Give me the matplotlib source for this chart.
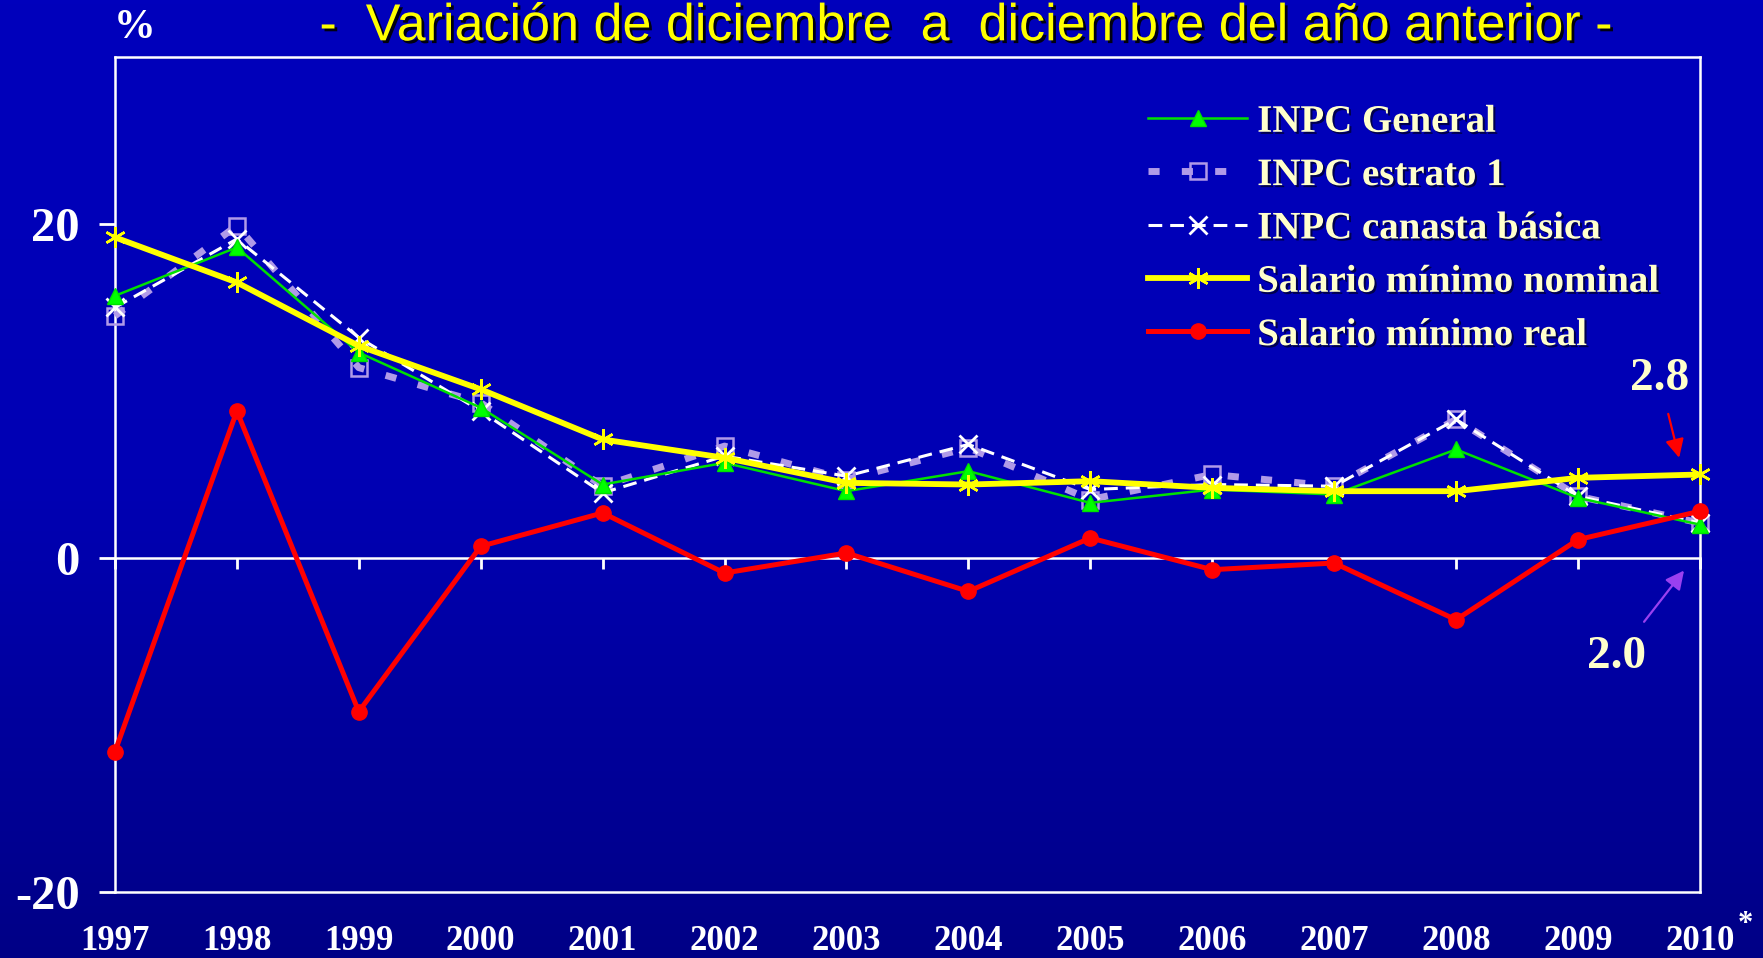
import numpy as np
import matplotlib
matplotlib.use("Agg")
import matplotlib.pyplot as plt
from matplotlib import patheffects as pe
from matplotlib.colors import LinearSegmentedColormap

# Annual December-to-December change (%)
years = [1997, 1998, 1999, 2000, 2001, 2002, 2003, 2004, 2005, 2006, 2007, 2008, 2009, 2010]
inpc_general = [15.7, 18.6, 12.3, 9.0, 4.4, 5.7, 4.0, 5.2, 3.3, 4.1, 3.8, 6.5, 3.6, 2.0]
inpc_estrato1 = [14.5, 19.9, 11.4, 9.3, 4.3, 6.7, 4.7, 6.6, 3.5, 5.0, 4.3, 8.3, 3.7, 2.1]
inpc_canasta = [15.0, 19.1, 13.2, 8.8, 3.9, 6.1, 4.9, 6.8, 4.1, 4.4, 4.3, 8.3, 3.7, 2.1]
sm_nominal = [19.2, 16.5, 12.7, 10.1, 7.1, 6.0, 4.5, 4.4, 4.6, 4.2, 4.0, 4.0, 4.8, 5.0]
sm_real = [-11.6, 8.8, -9.2, 0.7, 2.7, -0.9, 0.3, -2.0, 1.2, -0.7, -0.3, -3.7, 1.1, 2.8]

labels = ["INPC General", "INPC estrato 1", "INPC canasta básica",
          "Salario mínimo nominal", "Salario mínimo real"]
y_ticks = [-20, 0, 20]
title = "-  Variación de diciembre  a  diciembre del año anterior -"

SERIF = ["Liberation Serif", "DejaVu Serif"]
CREAM = "#FFFFCC"

fig = plt.figure(figsize=(17.63, 9.58), dpi=100)

# vertical blue gradient background
bg = fig.add_axes([0, 0, 1, 1], zorder=-10)
cmap = LinearSegmentedColormap.from_list("bg", ["#0000BC", "#0000B4", "#000086"])
grad = np.linspace(0, 1, 256).reshape(-1, 1)
bg.imshow(grad, aspect="auto", cmap=cmap, extent=[0, 1, 0, 1], origin="upper")
bg.set_axis_off()

ax = fig.add_axes([0.0652, 0.0689, 0.899, 0.8716])
ax.set_facecolor("none")
ax.set_xlim(years[0], years[-1])
ax.set_ylim(-20, 30)

for s in ax.spines.values():
    s.set_color("white")
    s.set_linewidth(1.8)

ax.plot(years, inpc_estrato1, color="#B09AE8", lw=5, dashes=(1.6, 3.2),
        marker="s", ms=11, mfc="none", mec="#B09AE8", mew=1.8,
        label=labels[1], zorder=3, clip_on=False)
ax.plot(years, inpc_canasta, color="white", lw=2.2, dashes=(4.5, 2.6),
        marker="x", ms=13, mew=2, label=labels[2], zorder=4, clip_on=False)
ax.plot(years, inpc_general, color="#00E000", lw=1.8, marker="^", ms=11.5,
        mfc="#00FF00", mec="#00E000", label=labels[0], zorder=5, clip_on=False)
ax.plot(years, sm_nominal, color="#FFFF00", lw=4.2, marker=(6, 2, 0), ms=15,
        mew=1.8, mec="#FFFF00", label=labels[3], zorder=6, clip_on=False)
ax.plot(years, sm_real, color="#FF0000", lw=3.6, marker="o", ms=11,
        label=labels[4], zorder=7, clip_on=False)

# x axis: labels at the bottom, tick marks along the zero line
ax.set_xticks(years)
ax.set_xticklabels([str(y) for y in years], fontfamily=SERIF,
                   fontweight="bold", fontsize=25, color="white")
ax.tick_params(axis="x", length=0, pad=24)

zero_axis = ax.secondary_xaxis(0.4)
zero_axis.set_xticks(years)
zero_axis.set_xticklabels([])
zero_axis.tick_params(axis="x", direction="out", length=8, width=2, color="white")
zero_axis.spines["bottom"].set_color("white")
zero_axis.spines["bottom"].set_linewidth(1.8)

ax.set_yticks(y_ticks)
ax.set_yticklabels([str(v) for v in y_ticks], fontfamily=SERIF,
                   fontweight="bold", fontsize=35, color="white")
ax.tick_params(axis="y", length=11.5, width=2, color="white", pad=14)

# legend order
handles, labs = ax.get_legend_handles_labels()
order = [labs.index(l) for l in labels]
leg = ax.legend([handles[i] for i in order], [labs[i] for i in order],
                loc="upper left", bbox_to_anchor=(0.652, 0.944),
                frameon=False, borderpad=0, borderaxespad=0,
                handlelength=2.55, handletextpad=0.25, labelspacing=0.42,
                prop={"family": SERIF, "weight": "bold", "size": 28})
for t in leg.get_texts():
    t.set_color(CREAM)
    t.set_path_effects([pe.withSimplePatchShadow(offset=(1.5, -1.5),
                                                 shadow_rgbFace="#000033", alpha=0.8)])

# end-point annotations
ax.annotate(f"{sm_real[-1]:.1f}", xy=(2009.83, 6.0), xytext=(2009.67, 10.7),
            ha="center", va="center", fontsize=34, fontweight="bold",
            fontfamily=SERIF, color=CREAM,
            arrowprops=dict(arrowstyle="-|>", color="#FF0000", lw=1.6,
                            mutation_scale=28, shrinkA=8, shrinkB=0))
ax.annotate(f"{inpc_general[-1]:.1f}", xy=(2009.87, -0.75), xytext=(2009.32, -5.9),
            ha="center", va="center", fontsize=34, fontweight="bold",
            fontfamily=SERIF, color=CREAM,
            arrowprops=dict(arrowstyle="-|>", color="#9A40F0", lw=1.6,
                            mutation_scale=28, shrinkA=10, shrinkB=0))

# header texts
fig.text(0.5485, 0.972, title, ha="center", va="center", fontsize=37.5,
         color="#FFFF00", family=["Liberation Sans Narrow", "Liberation Sans", "DejaVu Sans"],
         path_effects=[pe.withSimplePatchShadow(offset=(2, -2),
                                                shadow_rgbFace="black", alpha=0.9)])
fig.text(0.0765, 0.971, "%", ha="center", va="center", fontsize=30,
         fontweight="bold", color="white", family=SERIF)
fig.text(0.990, 0.035, "*", ha="center", va="center", fontsize=22,
         fontweight="bold", color="white", family=SERIF)

fig.savefig("out.png", dpi=100)
